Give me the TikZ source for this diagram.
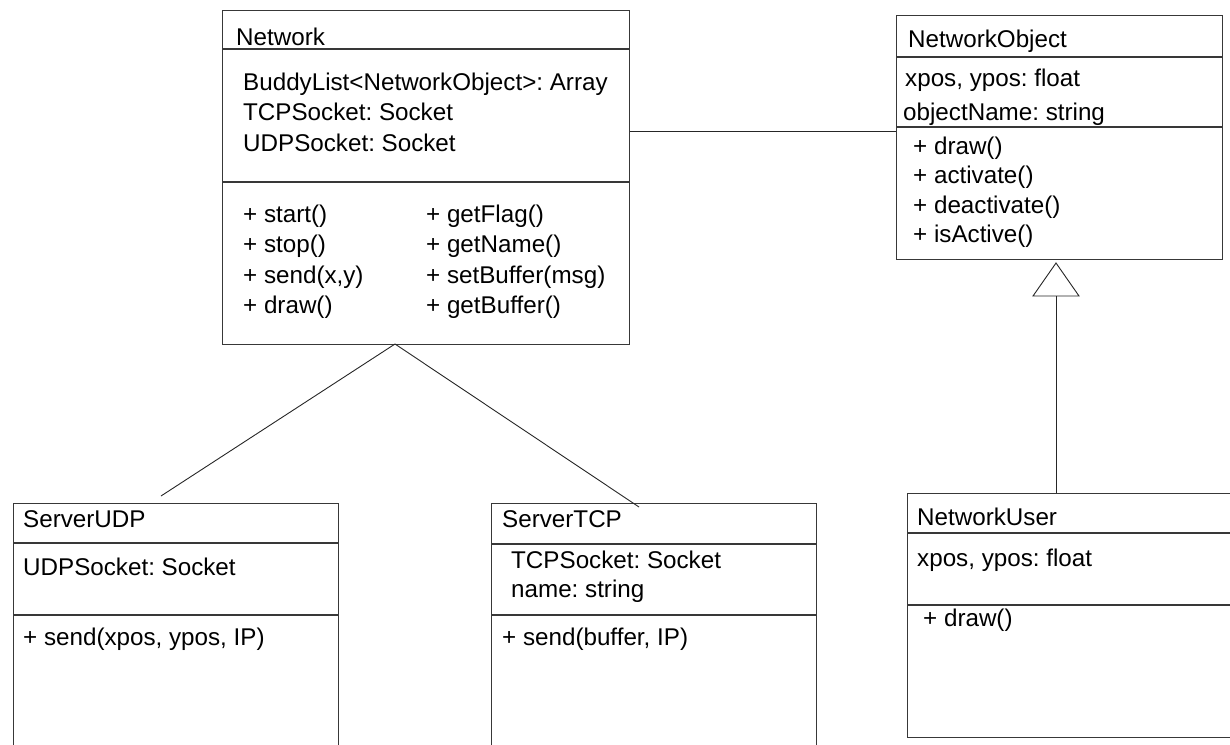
\documentclass[tikz,border=0pt]{standalone}
\usepackage{fontspec}
\setmainfont{Liberation Sans}
\frenchspacing
\begin{document}
\begin{tikzpicture}[x=1pt,y=-1pt,
  classbox/.style={draw=black!78,line width=1.2pt,rectangle,inner sep=0pt,anchor=north west},
  rule/.style={draw=black!78,line width=1.2pt},
  link/.style={draw=black!85,line width=0.9pt},
  txt/.style={anchor=base west,inner sep=0pt,font=\fontsize{24.2}{28}\selectfont}]
\useasboundingbox (0,0) rectangle (1230,744);
\clip (0,0) rectangle (1230,744);

% --- Network ---
\node[classbox,minimum width=407pt,minimum height=334.5pt] (net) at (222,9.5) {};
\draw[rule] (222,49) -- (629,49);
\draw[rule] (222,182) -- (629,182);
\node[txt] (netT) at (236,45) {Network};
\node[txt] (netA1) at (243,90) {BuddyList<NetworkObject>: Array};
\node[txt] (netA2) at (243,120.5) {TCPSocket: Socket};
\node[txt] (netA3) at (243,151) {UDPSocket: Socket};
\node[txt] (netM1) at (243,222) {+ start()};
\node[txt] (netM2) at (243,252.5) {+ stop()};
\node[txt] (netM3) at (243,283) {+ send(x,y)};
\node[txt] (netM4) at (243,313.5) {+ draw()};
\node[txt] (netM5) at (426,222) {+ getFlag()};
\node[txt] (netM6) at (426,252.5) {+ getName()};
\node[txt] (netM7) at (426,283) {+ setBuffer(msg)};
\node[txt] (netM8) at (426,313.5) {+ getBuffer()};

% --- NetworkObject ---
\node[classbox,minimum width=326pt,minimum height=244pt] (nobj) at (896,15) {};
\draw[rule] (896,57) -- (1222,57);
\draw[rule] (896,127) -- (1222,127);
\node[txt] (nobjT) at (908,47) {NetworkObject};
\node[txt] (nobjA1) at (905,86) {xpos, ypos: float};
\node[txt] (nobjA2) at (903,120) {objectName: string};
\node[txt] (nobjM1) at (913,154) {+ draw()};
\node[txt] (nobjM2) at (913,183.5) {+ activate()};
\node[txt] (nobjM3) at (913,213) {+ deactivate()};
\node[txt] (nobjM4) at (913,242.5) {+ isActive()};

% --- NetworkUser ---
\node[classbox,minimum width=340pt,minimum height=244pt] (nuser) at (907,493) {};
\draw[rule] (907,533) -- (1240,533);
\draw[rule] (907,605) -- (1240,605);
\node[txt] (nuserT) at (917,525) {NetworkUser};
\node[txt] (nuserA1) at (917,566) {xpos, ypos: float};
\node[txt] (nuserM1) at (923,626) {+ draw()};

% --- ServerUDP ---
\node[classbox,minimum width=325pt,minimum height=280pt] (sudp) at (13,503) {};
\draw[rule] (13,543) -- (338,543);
\draw[rule] (13,615) -- (338,615);
\node[txt] (sudpT) at (23,527) {ServerUDP};
\node[txt] (sudpA1) at (23,575) {UDPSocket: Socket};
\node[txt] (sudpM1) at (23,645) {+ send(xpos, ypos, IP)};

% --- ServerTCP ---
\node[classbox,minimum width=325pt,minimum height=280pt] (stcp) at (491,503) {};
\draw[rule] (491,544) -- (816,544);
\draw[rule] (491,615) -- (816,615);
\node[txt] (stcpT) at (502,527) {ServerTCP};
\node[txt] (stcpA1) at (511,568) {TCPSocket: Socket};
\node[txt] (stcpA2) at (511,597.5) {name: string};
\node[txt] (stcpM1) at (502,645) {+ send(buffer, IP)};

% --- connectors ---
\coordinate (assoc) at (0,131);
\draw[link] (assoc -| net.east) -- (assoc -| nobj.west);

\coordinate (hub) at (395,344);
\coordinate (udpEnd) at (161,496);
\coordinate (tcpEnd) at (639,507);
\draw[link] (hub) -- (udpEnd);
\draw[link] (hub) -- (tcpEnd);

% generalization: hollow triangle below NetworkObject
\coordinate (tip) at (1056,263);
\coordinate (baseMid) at (1056,296);
\draw[link,fill=white] (tip) -- (1079,296) -- (1033,296) -- cycle;
\draw[link] (baseMid) -- (baseMid |- nuser.north);
\end{tikzpicture}
\end{document}
